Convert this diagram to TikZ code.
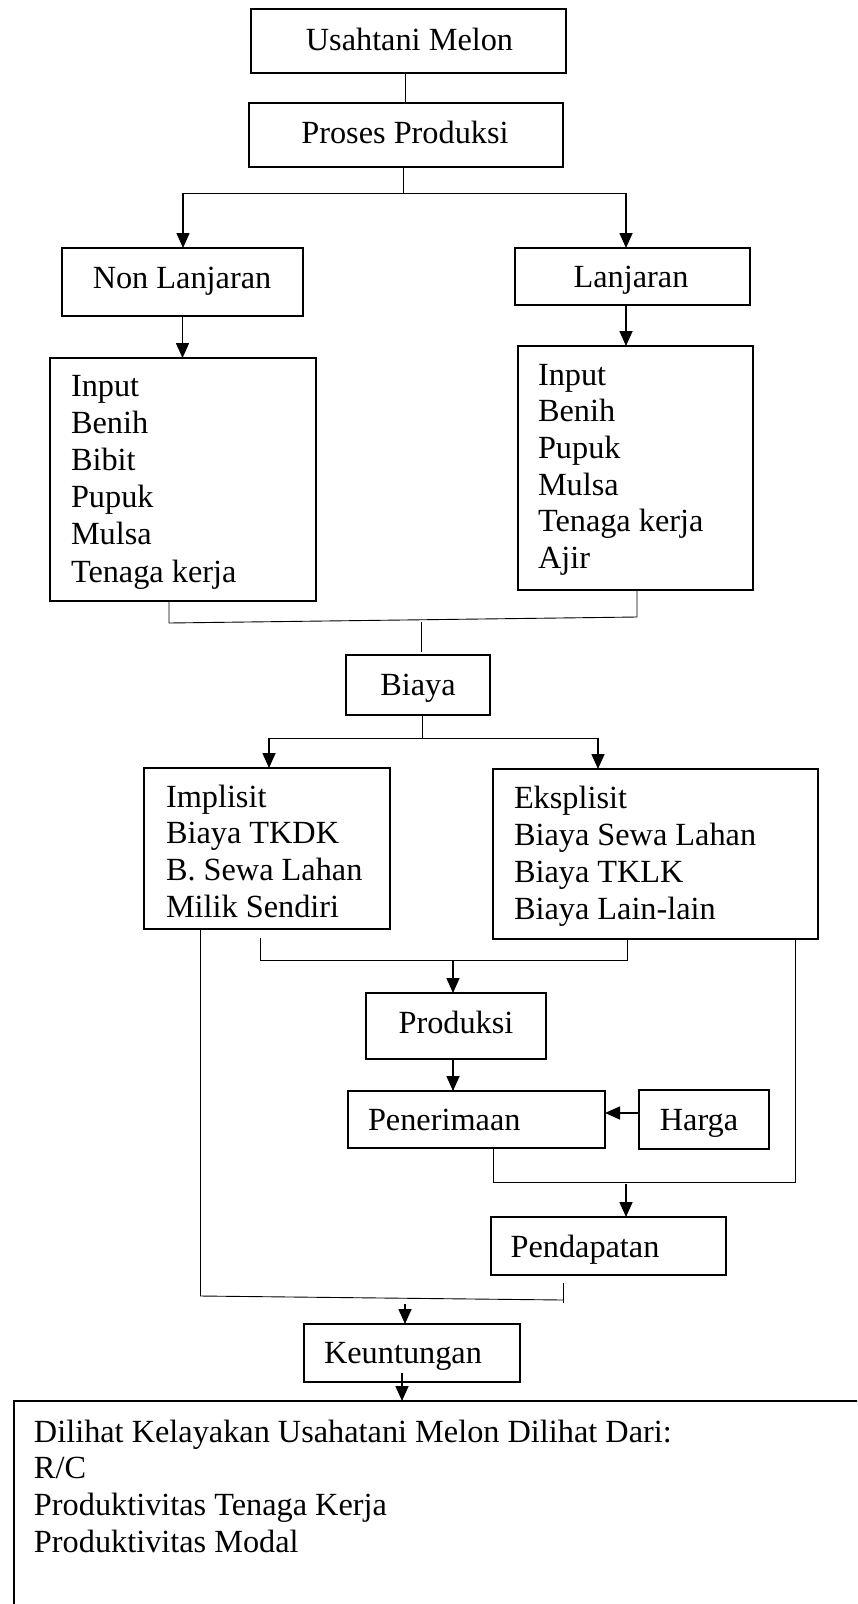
\documentclass[tikz,border=0pt]{standalone}
\usepackage{fontspec}
\setmainfont{Liberation Serif}
\usetikzlibrary{arrows.meta,fit}
\tikzset{
 box/.style={draw, line width=1.8pt, inner sep=0pt, outer sep=0pt},
 txt/.style={inner sep=0pt, outer sep=0pt, font=\fontsize{32.3}{37}\selectfont, anchor=base west},
 ctxt/.style={txt, anchor=base},
 conn/.style={line width=0.9pt},
 arr/.style={line width=1.6pt, -{Triangle[length=15pt,width=13pt]}},
}
\newcommand\mybox[5]{\node[box,fit={(#2,#3) (#4,#5)}] (#1) {};}
\begin{document}
\begin{tikzpicture}[x=1pt,y=-1pt]
\useasboundingbox (0,0) rectangle (857,1604);
\clip (0,0) rectangle (857,1604);
% boxes
\mybox{usaha}{251}{9}{566}{73}
\mybox{proses}{249}{103}{563}{167}
\mybox{nonlan}{62}{248}{303}{316}
\mybox{lan}{515}{248}{750}{305}
\mybox{inL}{50}{358}{316}{601}
\mybox{inR}{518}{346}{753}{590}
\mybox{biaya}{346}{655}{490}{715}
\mybox{impl}{144}{768}{390}{929}
\mybox{eks}{493}{769}{818}{939}
\mybox{prod}{366}{993}{546}{1059}
\mybox{pener}{348}{1091}{605}{1148}
\mybox{harga}{639}{1090}{769}{1149}
\mybox{pend}{491}{1217}{726}{1275}
\mybox{untung}{304}{1324}{520}{1382}
\mybox{hasil}{14}{1401}{880}{1640}
% texts
\node[ctxt] (tusaha) at (409.5,50) {Usahtani Melon};
\node[ctxt] (tproses) at (405,143) {Proses Produksi};
\node[ctxt] (tnonlan) at (182,288) {Non Lanjaran};
\node[ctxt] (tlan) at (631,287) {Lanjaran};
\foreach \t [count=\i from 0] in {Input,Benih,Bibit,Pupuk,Mulsa,Tenaga kerja}
  \node[txt] (tinL\i) at (71,396.5+37.1*\i) {\t};
\foreach \t [count=\i from 0] in {Input,Benih,Pupuk,Mulsa,Tenaga kerja,Ajir}
  \node[txt] (tinR\i) at (538,385+36.7*\i) {\t};
\node[ctxt] (tbiaya) at (418,695) {Biaya};
\foreach \t [count=\i from 0] in {Implisit,Biaya TKDK,B. Sewa Lahan,Milik Sendiri}
  \node[txt] (timpl\i) at (166,807+36.7*\i) {\t};
\foreach \t [count=\i from 0] in {Eksplisit,Biaya Sewa Lahan,Biaya TKLK,Biaya Lain-lain}
  \node[txt] (teks\i) at (514,808+37.2*\i) {\t};
\node[ctxt] (tprod) at (456,1033) {Produksi};
\node[txt] (tpener) at (368,1130) {Penerimaan};
\node[ctxt] (tharga) at (699,1130) {Harga};
\node[ctxt] (tpend) at (585,1257) {Pendapatan};
\node[ctxt] (tuntung) at (403,1363) {Keuntungan};
\foreach \t [count=\i from 0] in {Dilihat Kelayakan Usahatani Melon Dilihat Dari:,R/C,Produktivitas Tenaga Kerja,Produktivitas Modal}
  \node[txt] (thasil\i) at (34,1442+36.7*\i) {\t};
% connectors
\draw[conn] ([xshift=-3pt]usaha.south) -- ([xshift=-0.5pt]proses.north);
\coordinate (j1) at (403,193);
\coordinate (j1l) at (183,193);
\coordinate (j1r) at (626,193);
\draw[conn] ([xshift=-3pt]proses.south) -- (j1);
\draw[conn] (j1l) -- (j1r);
\draw[arr] (j1l) -- (j1l |- nonlan.north);
\draw[arr] (j1r) -- (j1r |- lan.north);
\draw[arr] (nonlan.south) -- (nonlan.south |- inL.north);
\coordinate (lanS) at ([xshift=-6.5pt]lan.south);
\draw[arr] (lanS) -- (lanS |- inR.north);
\draw[conn] ([xshift=-14pt]inL.south) -- ++(0,22) -- ([xshift=1.5pt,yshift=-27pt]inR.south) -- ([xshift=1.5pt]inR.south);
\coordinate (j6) at (421,622);
\draw[conn] (j6) -- ([xshift=3pt,yshift=3pt]biaya.north);
\coordinate (j2) at (422,738);
\coordinate (j2l) at (269,738);
\coordinate (j2r) at (598,738);
\draw[conn] ([xshift=4pt]biaya.south) -- (j2);
\draw[conn] (j2l) -- (j2r);
\draw[arr] (j2l) -- (j2l |- impl.north);
\draw[arr] (j2r) -- (j2r |- eks.north);
\coordinate (j3l) at (260,938);
\coordinate (j3r) at (627,960);
\draw[conn] (j3l) -- (j3l |- j3r) -- (j3r) -- (j3r |- eks.south);
\coordinate (j3m) at (453,961);
\draw[arr] (j3m) -- (j3m |- prod.north);
\coordinate (ps) at ([xshift=-3pt]prod.south);
\draw[arr] (ps) -- (ps |- pener.north);
\coordinate (hw) at ([yshift=6.5pt]harga.west);
\draw[arr] (hw) -- (hw -| pener.east);
\coordinate (ps2) at ([xshift=16.5pt]pener.south);
\coordinate (es) at ([xshift=139.5pt]eks.south);
\coordinate (j4) at (795,1182);
\draw[conn] (ps2) -- (ps2 |- j4) -- (j4) -- (es);
\coordinate (j4m) at (626,1184);
\draw[arr] (j4m) -- (j4m |- pend.north);
\coordinate (is) at ([xshift=-66.5pt]impl.south);
\draw[conn] (is) -- (200.5,1296) -- (563,1300);
\draw[conn] ([xshift=-45.5pt,yshift=-8pt]pend.south) -- ++(0,20);
\coordinate (j5) at (405,1304);
\draw[arr] (j5) -- (j5 |- untung.north);
\coordinate (us) at (402,1373);
\draw[arr] (us) -- (us |- hasil.north);
\end{tikzpicture}
\end{document}
